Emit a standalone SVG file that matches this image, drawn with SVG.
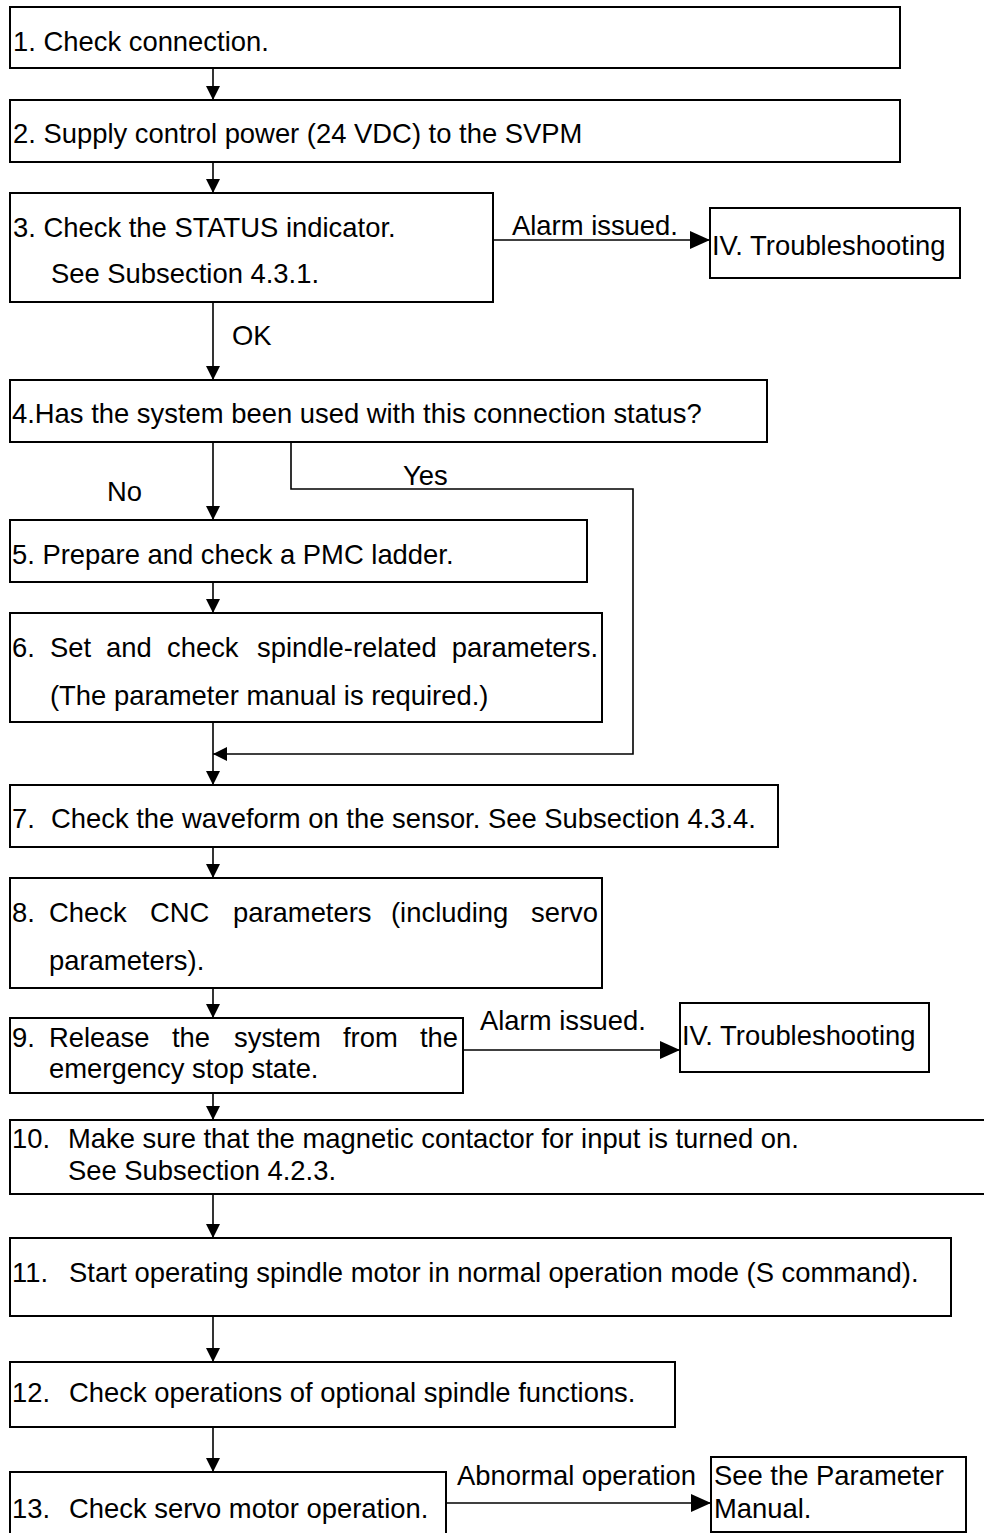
<svg xmlns="http://www.w3.org/2000/svg" width="984" height="1533" viewBox="0 0 984 1533">
<style>
  rect.box { fill: #fff; stroke: #000; stroke-width: 2; }
  text { font-family: "Liberation Sans", Arial, sans-serif; font-size: 27.4px; fill: #000; }
  .con path { fill: none; stroke: #000; stroke-width: 1.6; }
</style>
<defs>
  <marker id="ah" markerUnits="userSpaceOnUse" markerWidth="15" markerHeight="15" refX="14" refY="7" orient="auto">
    <path d="M0,0 L14,7 L0,14 Z" fill="#000"/>
  </marker>
  <marker id="ahL" markerUnits="userSpaceOnUse" markerWidth="21" markerHeight="19" refX="20" refY="9" orient="auto">
    <path d="M0,0 L20,9 L0,18 Z" fill="#000"/>
  </marker>
</defs>
<rect width="984" height="1533" fill="#fff"/>

<g class="con" id="connectors">
  <path d="M213,68 V100" marker-end="url(#ah)"/>
  <path d="M213,162 V193" marker-end="url(#ah)"/>
  <path d="M213,302 V380" marker-end="url(#ah)"/>
  <path d="M213,442 V520" marker-end="url(#ah)"/>
  <path d="M213,582 V613" marker-end="url(#ah)"/>
  <path d="M213,722 V785" marker-end="url(#ah)"/>
  <path d="M291,442 V489 H633 V754 H213" marker-end="url(#ah)"/>
  <path d="M213,847 V878" marker-end="url(#ah)"/>
  <path d="M213,988 V1018" marker-end="url(#ah)"/>
  <path d="M213,1093 V1120" marker-end="url(#ah)"/>
  <path d="M213,1194 V1238" marker-end="url(#ah)"/>
  <path d="M213,1316 V1362" marker-end="url(#ah)"/>
  <path d="M213,1427 V1472" marker-end="url(#ah)"/>
  <path d="M493,240 H710" marker-end="url(#ahL)"/>
  <path d="M463,1050 H680" marker-end="url(#ahL)"/>
  <path d="M446,1503 H711" marker-end="url(#ahL)"/>
  <text x="512" y="235">Alarm issued.</text>
  <text x="232" y="345">OK</text>
  <text x="107" y="501">No</text>
  <text x="403" y="485">Yes</text>
  <text x="480" y="1030">Alarm issued.</text>
  <text x="457" y="1485">Abnormal operation</text>
</g>

<g id="n1">
  <rect class="box" x="10" y="7" width="890" height="61"/>
  <text x="13" y="51">1. Check connection.</text>
</g>
<g id="n2">
  <rect class="box" x="10" y="100" width="890" height="62"/>
  <text x="13" y="143">2. Supply control power (24 VDC) to the SVPM</text>
</g>
<g id="n3">
  <rect class="box" x="10" y="193" width="483" height="109"/>
  <text x="13" y="237">3. Check the STATUS indicator.</text>
  <text x="51" y="283">See Subsection 4.3.1.</text>
</g>
<g id="t1">
  <rect class="box" x="710" y="208" width="250" height="70"/>
  <text x="712" y="255">IV. Troubleshooting</text>
</g>
<g id="n4">
  <rect class="box" x="10" y="380" width="757" height="62"/>
  <text x="12" y="423">4.Has the system been used with this connection status?</text>
</g>
<g id="n5">
  <rect class="box" x="10" y="520" width="577" height="62"/>
  <text x="12" y="564">5. Prepare and check a PMC ladder.</text>
</g>
<g id="n6">
  <rect class="box" x="10" y="613" width="592" height="109"/>
  <text y="657"><tspan x="12">6.</tspan><tspan x="50">Set</tspan><tspan x="106">and</tspan><tspan x="167">check</tspan><tspan x="257">spindle-related</tspan><tspan x="598" text-anchor="end">parameters.</tspan></text>
  <text x="50" y="705">(The parameter manual is required.)</text>
</g>
<g id="n7">
  <rect class="box" x="10" y="785" width="768" height="62"/>
  <text y="828"><tspan x="12">7.</tspan><tspan x="51">Check the waveform on the sensor. See Subsection 4.3.4.</tspan></text>
</g>
<g id="n8">
  <rect class="box" x="10" y="878" width="592" height="110"/>
  <text y="922"><tspan x="12">8.</tspan><tspan x="49">Check</tspan><tspan x="150">CNC</tspan><tspan x="233">parameters</tspan><tspan x="391">(including</tspan><tspan x="598" text-anchor="end">servo</tspan></text>
  <text x="49" y="970">parameters).</text>
</g>
<g id="n9">
  <rect class="box" x="10" y="1018" width="453" height="75"/>
  <text y="1047"><tspan x="12">9.</tspan><tspan x="49">Release</tspan><tspan x="172">the</tspan><tspan x="234">system</tspan><tspan x="343">from</tspan><tspan x="458" text-anchor="end">the</tspan></text>
  <text x="49" y="1078">emergency stop state.</text>
</g>
<g id="t2">
  <rect class="box" x="680" y="1003" width="249" height="69"/>
  <text x="682" y="1045">IV. Troubleshooting</text>
</g>
<g id="n10">
  <rect class="box" x="10" y="1120" width="990" height="74"/>
  <text y="1148"><tspan x="12">10.</tspan><tspan x="68">Make sure that the magnetic contactor for input is turned on.</tspan></text>
  <text x="68" y="1180">See Subsection 4.2.3.</text>
</g>
<g id="n11">
  <rect class="box" x="10" y="1238" width="941" height="78"/>
  <text y="1282"><tspan x="12">11.</tspan><tspan x="69">Start operating spindle motor in normal operation mode (S command).</tspan></text>
</g>
<g id="n12">
  <rect class="box" x="10" y="1362" width="665" height="65"/>
  <text y="1402"><tspan x="12">12.</tspan><tspan x="69">Check operations of optional spindle functions.</tspan></text>
</g>
<g id="n13">
  <rect class="box" x="10" y="1472" width="436" height="80"/>
  <text y="1518"><tspan x="12">13.</tspan><tspan x="69">Check servo motor operation.</tspan></text>
</g>
<g id="pm">
  <rect class="box" x="711" y="1457" width="255" height="75"/>
  <text x="714" y="1485">See the Parameter</text>
  <text x="714" y="1518">Manual.</text>
</g>
</svg>
